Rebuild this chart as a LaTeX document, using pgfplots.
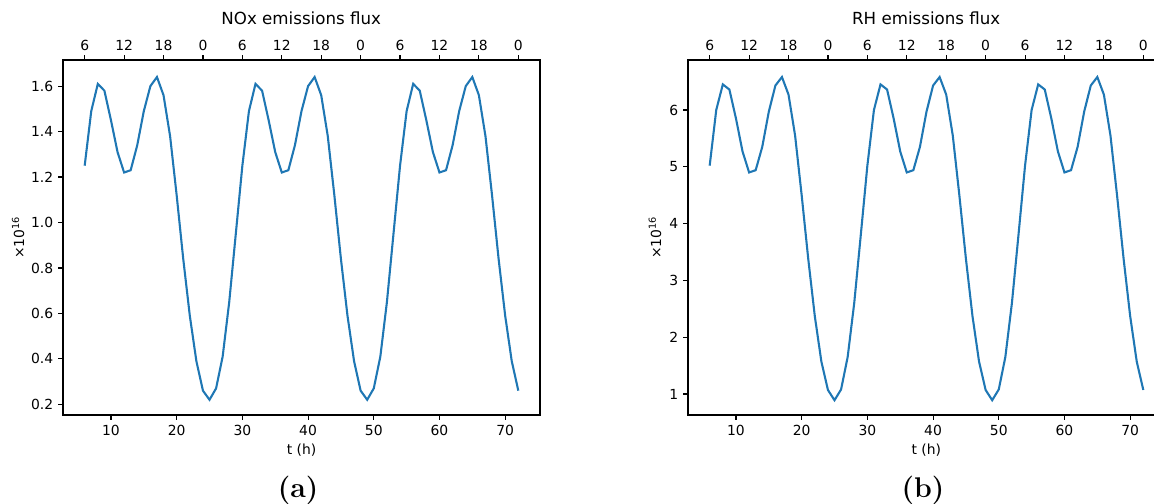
\documentclass[border=0pt]{standalone}
\usepackage{fontspec}
\usepackage{pgfplots}
\pgfplotsset{compat=1.18}
\newfontfamily\dv{DejaVu Sans}
\definecolor{c0}{HTML}{1F77B4}
\pgfplotstableread{
t nox rh
6 1.25 5.02
7 1.49 6.00
8 1.61 6.45
9 1.58 6.36
10 1.45 5.85
11 1.31 5.27
12 1.22 4.90
13 1.23 4.94
14 1.34 5.35
15 1.49 5.97
16 1.60 6.43
17 1.64 6.58
18 1.56 6.27
19 1.38 5.55
20 1.12 4.50
21 0.84 3.38
22 0.59 2.37
23 0.39 1.57
24 0.26 1.07
25 0.22 0.89
26 0.27 1.08
27 0.41 1.65
28 0.65 2.60
29 0.95 3.80
30 1.25 5.02
31 1.49 6.00
32 1.61 6.45
33 1.58 6.36
34 1.45 5.85
35 1.31 5.27
36 1.22 4.90
37 1.23 4.94
38 1.34 5.35
39 1.49 5.97
40 1.60 6.43
41 1.64 6.58
42 1.56 6.27
43 1.38 5.55
44 1.12 4.50
45 0.84 3.38
46 0.59 2.37
47 0.39 1.57
48 0.26 1.07
49 0.22 0.89
50 0.27 1.08
51 0.41 1.65
52 0.65 2.60
53 0.95 3.80
54 1.25 5.02
55 1.49 6.00
56 1.61 6.45
57 1.58 6.36
58 1.45 5.85
59 1.31 5.27
60 1.22 4.90
61 1.23 4.94
62 1.34 5.35
63 1.49 5.97
64 1.60 6.43
65 1.64 6.58
66 1.56 6.27
67 1.38 5.55
68 1.12 4.50
69 0.84 3.38
70 0.59 2.37
71 0.39 1.57
72 0.26 1.07
}\datatab
\pgfplotsset{
  base/.style={scale only axis, width=343.44pt, height=255.6pt, anchor=south west,
    xmin=2.7, xmax=75.3, tick align=outside, major tick length=3.5pt,
    axis line style={line width=0.8pt, black},
    every tick/.style={black, line width=0.8pt},
    tick label style={font=\dv\fontsize{10}{12}\selectfont},
    /pgf/number format/assume math mode=true},
  mainax/.style={base, xtick={10,20,...,70}, xtick pos=bottom, ytick pos=left},
  topax/.style={base, axis x line*=top, hide y axis,
    xtick={6,12,...,72}, xticklabels={6,12,18,0,6,12,18,0,6,12,18,0}},
}
\begin{document}
\begin{tikzpicture}
\useasboundingbox (0,0) rectangle (830.88pt,362.88pt);
% left
\begin{axis}[mainax, at={(45.36pt,64.08pt)}, ymin=0.153, ymax=1.715,
  ytick={0.2,0.4,...,1.6},
  yticklabel style={/pgf/number format/.cd, fixed, fixed zerofill, precision=1}]
  \addplot[c0, line width=1.5pt, mark=none] table[x=t, y=nox] {\datatab};
\end{axis}
\begin{axis}[topax, at={(45.36pt,64.08pt)}, ymin=0.153, ymax=1.715]
  \addplot[draw=none] coordinates {(6,1) (72,1)};
\end{axis}
% right
\begin{axis}[mainax, at={(495.36pt,64.08pt)}, ymin=0.63, ymax=6.88,
  ytick={1,2,...,6}]
  \addplot[c0, line width=1.5pt, mark=none] table[x=t, y=rh] {\datatab};
\end{axis}
\begin{axis}[topax, at={(495.36pt,64.08pt)}, ymin=0.63, ymax=6.88]
  \addplot[draw=none] coordinates {(6,1) (72,1)};
\end{axis}
% texts
\node[font=\dv\fontsize{12}{14}\selectfont] at (216.9pt,349.9pt) {NOx emissions flux};
\node[font=\dv\fontsize{12}{14}\selectfont] at (666.9pt,349.9pt) {RH emissions flux};
\node[font=\dv\fontsize{10}{12}\selectfont] at (217.1pt,38.9pt) {t (h)};
\node[font=\dv\fontsize{10}{12}\selectfont] at (667.0pt,38.9pt) {t (h)};
\node[font=\dv\fontsize{10}{12}\selectfont, rotate=90] at (13pt,191.9pt) {×10\textsuperscript{16}};
\node[font=\dv\fontsize{10}{12}\selectfont, rotate=90] at (471.6pt,191.9pt) {×10\textsuperscript{16}};
\node[font=\fontsize{20.5}{24}\selectfont\bfseries] at (214.6pt,9.6pt) {(a)};
\node[font=\fontsize{20.5}{24}\selectfont\bfseries] at (664.6pt,9.6pt) {(b)};
\end{tikzpicture}
\end{document}
